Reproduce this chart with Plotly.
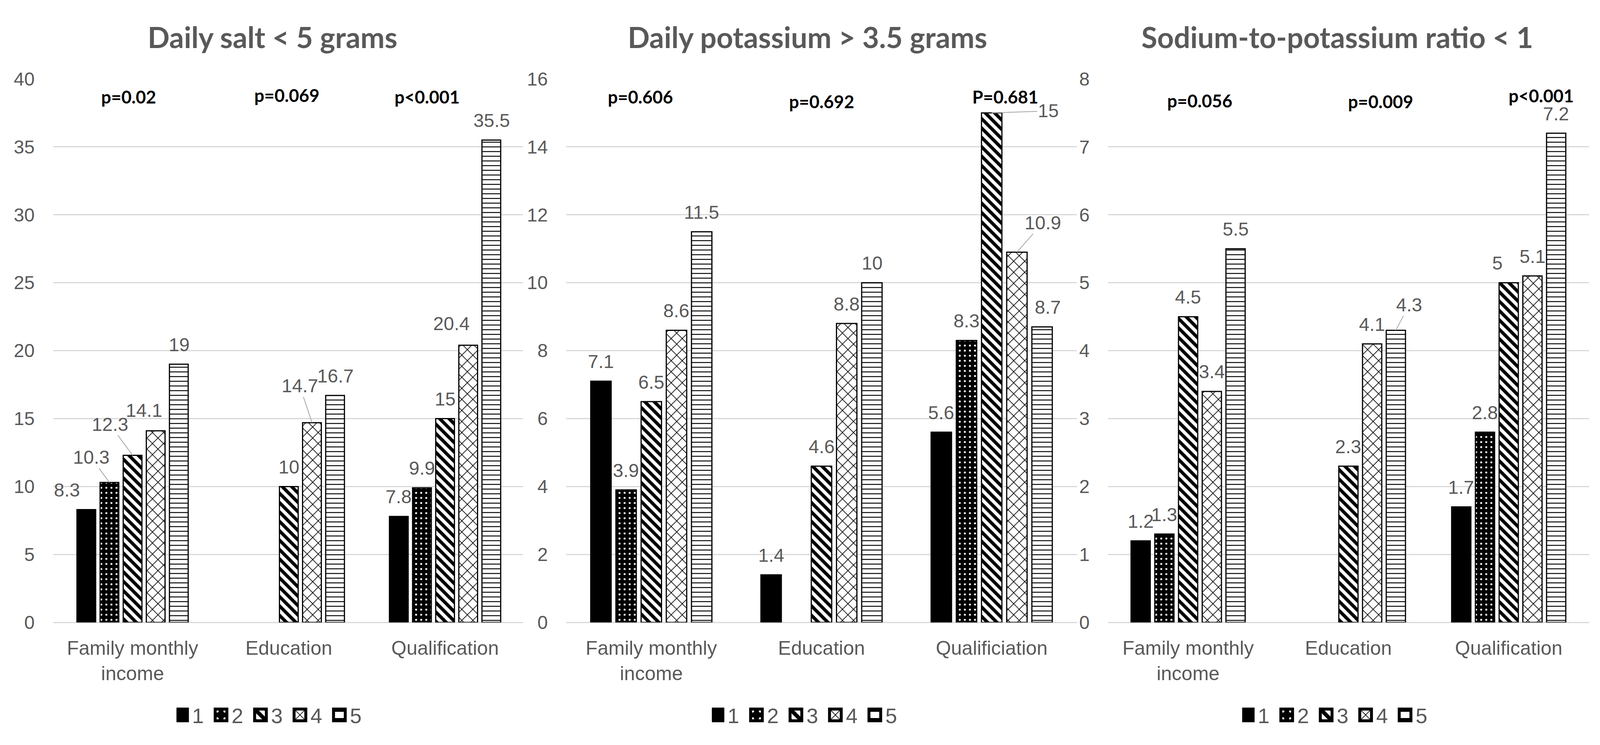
import plotly.graph_objects as go

W, H = 4315, 1907          # reference size
VIEW_W = 4096              # width of the page the figure is drawn in
K = VIEW_W / W             # horizontal pixel scale

# ---------------- data ----------------
series_names = ["1", "2", "3", "4", "5"]

salt_title = "Daily salt < 5 grams"
salt_categories = ["Family monthly<br>income", "Education", "Qualification"]
salt_s1 = [8.3, None, 7.8]
salt_s2 = [10.3, None, 9.9]
salt_s3 = [12.3, 10, 15]
salt_s4 = [14.1, 14.7, 20.4]
salt_s5 = [19, 16.7, 35.5]
salt_pvalues = ["p=0.02", "p=0.069", "p<0.001"]
salt_yticks = [0, 5, 10, 15, 20, 25, 30, 35, 40]

pot_title = "Daily potassium > 3.5 grams"
pot_categories = ["Family monthly<br>income", "Education", "Qualificiation"]
pot_s1 = [7.1, 1.4, 5.6]
pot_s2 = [3.9, None, 8.3]
pot_s3 = [6.5, 4.6, 15]
pot_s4 = [8.6, 8.8, 10.9]
pot_s5 = [11.5, 10, 8.7]
pot_pvalues = ["p=0.606", "p=0.692", "P=0.681"]
pot_yticks = [0, 2, 4, 6, 8, 10, 12, 14, 16]

ratio_title = "Sodium-to-potassium ratio < 1"
ratio_categories = ["Family monthly<br>income", "Education", "Qualification"]
ratio_s1 = [1.2, None, 1.7]
ratio_s2 = [1.3, None, 2.8]
ratio_s3 = [4.5, 2.3, 5]
ratio_s4 = [3.4, 4.1, 5.1]
ratio_s5 = [5.5, 4.3, 7.2]
ratio_pvalues = ["p=0.056", "p=0.009", "p<0.001"]
ratio_yticks = [0, 1, 2, 3, 4, 5, 6, 7, 8]

# ---------------- layout / style ----------------
GRID = "#d9d9d9"
TXT = "#595959"
NUM_FONT = "Liberation Sans, Arial, sans-serif"
BOLD_FONT = "Lato, Carlito, sans-serif"

BARGAP = 0.26
BARGROUPGAP = 0.19

plot_top_px, plot_bot_px = 181, 1612
ydom = [(H - plot_bot_px) / H, (H - plot_top_px) / H]

panel_px = [(143, 1411), (1527, 2904), (2988, 4285)]
title_px = [735, 2178, 3607]
legend_px = [742, 2186, 3616]
pval_dx = [[-10, -5, -48], [-29, 0, 37], [32, 87, 88]]
pval_y = [[0.967, 0.970, 0.967], [0.967, 0.958, 0.967], [0.960, 0.958, 0.969]]

# label offsets (dx, dy, leader) from bar top centre; default (0, -50, False)
label_adj = {
    (0, 0, 0): (-52, -50, False),
    (0, 1, 0): (-49, -64, True),
    (0, 2, 0): (-61, -79, True),
    (0, 3, 0): (-32, -52, False),
    (0, 3, 1): (-33, -94, True),
    (0, 3, 2): (-46, -55, False),
    (1, 2, 2): (152, -5, True),
    (1, 3, 2): (70, -75, True),
    (1, 4, 2): (16, -50, False),
    (2, 4, 1): (36, -65, True),
    (2, 2, 2): (-30, -50, False),
}

patterns = [
    dict(),
    dict(shape=".", fgcolor="white", bgcolor="black", size=13, solidity=0.12),
    dict(shape="\\", fgcolor="black", bgcolor="white", size=17, solidity=0.5),
    dict(shape="x", fgcolor="black", bgcolor="white", size=20, solidity=0.16),
    dict(shape="-", fgcolor="black", bgcolor="white", size=12, solidity=0.2),
]

panels = [
    dict(title=salt_title, cats=salt_categories,
         series=[salt_s1, salt_s2, salt_s3, salt_s4, salt_s5],
         pvals=salt_pvalues, yticks=salt_yticks),
    dict(title=pot_title, cats=pot_categories,
         series=[pot_s1, pot_s2, pot_s3, pot_s4, pot_s5],
         pvals=pot_pvalues, yticks=pot_yticks),
    dict(title=ratio_title, cats=ratio_categories,
         series=[ratio_s1, ratio_s2, ratio_s3, ratio_s4, ratio_s5],
         pvals=ratio_pvalues, yticks=ratio_yticks),
]

fig = go.Figure()
annotations = []
layout_axes = {}

for p, panel in enumerate(panels):
    sfx = "" if p == 0 else str(p + 1)
    xref = "x" + sfx
    yref = "y" + sfx
    legend_name = "legend" + sfx
    x0, x1 = panel_px[p]
    slot = (x1 - x0) * K / 3 * (1 - BARGAP) / 5

    for i, vals in enumerate(panel["series"]):
        marker = dict(color="black", line=dict(color="black", width=3))
        if patterns[i]:
            marker["pattern"] = dict(fillmode="replace", **patterns[i])
        fig.add_trace(go.Bar(
            x=panel["cats"], y=vals, name=series_names[i],
            xaxis=xref, yaxis=yref, marker=marker,
            legend=legend_name, showlegend=True,
        ))
        for c, v in enumerate(vals):
            if v is None:
                continue
            dx, dy, leader = label_adj.get((p, i, c), (0, -50, False))
            off = (i - 2) * slot
            txt = f"{v:g}"
            if leader:
                annotations.append(dict(
                    x=panel["cats"][c], y=v, xref=xref, yref=yref,
                    xshift=off, text=txt, showarrow=True, ax=dx * K, ay=dy,
                    arrowhead=0, arrowwidth=2, arrowcolor="#a6a6a6", standoff=0,
                    font=dict(family=NUM_FONT, size=48, color=TXT)))
            else:
                annotations.append(dict(
                    x=panel["cats"][c], y=v, xref=xref, yref=yref,
                    xshift=off + dx * K, yshift=-dy, yanchor="middle",
                    text=txt, showarrow=False,
                    font=dict(family=NUM_FONT, size=48, color=TXT)))

    for c, ptxt in enumerate(panel["pvals"]):
        annotations.append(dict(
            x=panel["cats"][c], y=pval_y[p][c], xref=xref, yref=yref + " domain",
            xshift=pval_dx[p][c] * K, text="<b>" + ptxt + "</b>", showarrow=False,
            yanchor="middle",
            font=dict(family=BOLD_FONT, size=45, color="black")))

    annotations.append(dict(
        x=title_px[p] / W, y=(H - 70) / H, xref="paper", yref="paper",
        text="<b>" + panel["title"] + "</b>", showarrow=False,
        xanchor="center", yanchor="middle",
        font=dict(family=BOLD_FONT, size=74, color=TXT)))

    layout_axes["xaxis" + sfx] = dict(
        domain=[x0 / W, x1 / W], anchor=yref, type="category",
        categoryorder="array", categoryarray=panel["cats"],
        showgrid=False, showline=False, zeroline=False, ticks="",
        tickfont=dict(family=NUM_FONT, size=50, color=TXT),
        ticklabelstandoff=32, fixedrange=True)
    layout_axes["yaxis" + sfx] = dict(
        domain=ydom, anchor=xref, range=[0, panel["yticks"][-1]],
        tickvals=panel["yticks"], showgrid=True, gridcolor=GRID, gridwidth=3,
        zeroline=True, zerolinecolor=GRID, zerolinewidth=3, showline=False,
        ticks="", tickfont=dict(family=NUM_FONT, size=48, color=TXT),
        ticklabelstandoff=round(48 * K), fixedrange=True)
    layout_axes[legend_name] = dict(
        orientation="h", x=legend_px[p] / W, y=(H - 1856) / H,
        xanchor="center", yanchor="middle", bgcolor="rgba(0,0,0,0)",
        font=dict(family=NUM_FONT, size=54, color=TXT),
        itemwidth=30, traceorder="normal",
        entrywidth=56, entrywidthmode="pixels")

fig.update_layout(
    autosize=True,
    margin=dict(l=0, r=0, t=0, b=0),
    paper_bgcolor="white", plot_bgcolor="white",
    barmode="group", bargap=BARGAP, bargroupgap=BARGROUPGAP,
    annotations=annotations, showlegend=True,
    **layout_axes,
)

post = """
document.body.style.margin='0';
document.body.style.overflow='hidden';
var gd = document.getElementById('{plot_id}');
function bigSymbols() {
  gd.querySelectorAll('.legendpoints path').forEach(function(p) {
    if (!p.getAttribute('data-big')) {
      var t = p.getAttribute('transform') || '';
      p.setAttribute('transform', t + ' translate(-7,0) scale(2.5)');
      p.setAttribute('data-big', '1');
    }
  });
}
gd.on('plotly_afterplot', bigSymbols);
bigSymbols();
"""

fig.write_html("out.html", config={"displayModeBar": False, "responsive": True},
               default_width="100vw", default_height="100vh",
               post_script=post)
